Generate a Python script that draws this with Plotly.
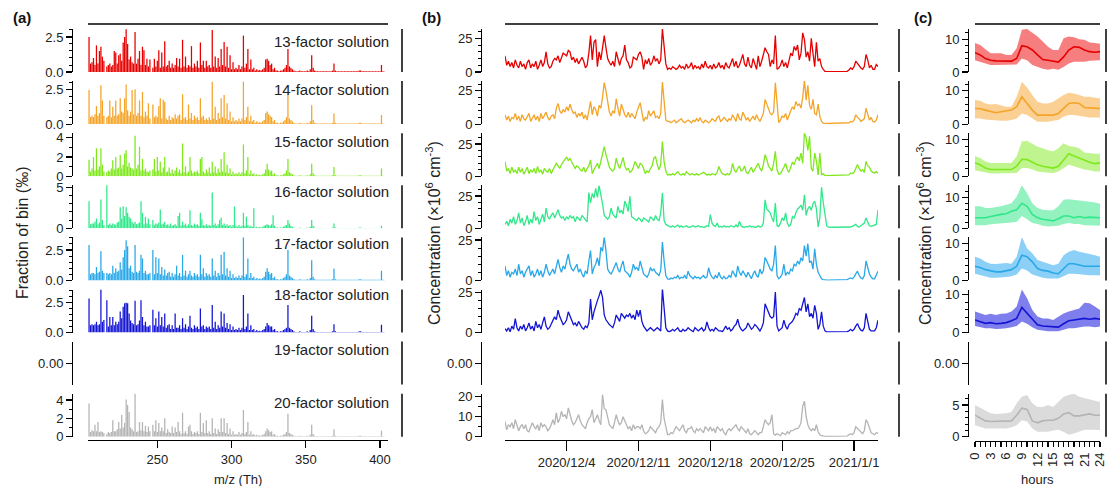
import plotly.graph_objects as go
import pandas as pd

W, H = 1107, 486
FONT = "Arial, 'Liberation Sans', sans-serif"

# ---------------- data ----------------
factor_names = ["13-factor solution", "14-factor solution", "15-factor solution",
                "16-factor solution", "17-factor solution", "18-factor solution",
                "19-factor solution", "20-factor solution"]
factor_colors = ["#e60000", "#f4a428", "#7ee81c", "#30e88a", "#28a8e8", "#1414d4", "#000000", "#b4b4b4"]
band_colors = ["rgba(240,20,20,0.55)", "rgba(246,170,60,0.55)", "rgba(140,235,50,0.55)",
               "rgba(60,232,140,0.55)", "rgba(45,170,240,0.55)", "rgba(40,40,225,0.6)",
               "rgba(0,0,0,0)", "rgba(190,190,190,0.55)"]

# factor mass spectra, fraction of bin (per mil), unit m/z 204..403
mz = list(range(204, 404))

spec_13 = [
    2.5, 0.6, 0.7, 1.0, 0.5, 1.9, 0.6, 1.5, 1.8, 1.1,
    0.8, 0.0, 0.4, 0.5, 0.6, 0.4, 0.5, 1.5, 1.4, 0.6,
    1.2, 1.3, 0.8, 2.1, 2.5, 3.05, 2.0, 0.9, 1.1, 0.7,
    0.6, 2.85, 0.6, 0.95, 1.5, 0.5, 1.8, 1.55, 0.5, 0.95,
    0.4, 0.9, 0.0, 0.3, 0.95, 0.4, 0.8, 1.55, 0.3, 1.4,
    0.4, 2.2, 0.4, 0.5, 0.8, 0.3, 0.6, 0.3, 0.5, 1.0,
    0.4, 0.95, 0.3, 2.3, 0.4, 1.1, 0.3, 0.5, 0.4, 1.85,
    0.3, 0.6, 0.4, 0.8, 0.3, 2.1, 0.5, 0.8, 0.3, 0.8,
    0.4, 0.5, 0.3, 3.0, 0.4, 1.1, 0.3, 1.0, 0.4, 1.65,
    0.5, 2.15, 0.4, 1.8, 0.3, 1.2, 0.2, 0.7, 0.2, 0.3,
    0.2, 0.5, 0.2, 0.4, 2.6, 0.3, 0.6, 1.65, 0.2, 0.9,
    0.2, 0.3, 0.1, 0.2, 0.1, 0.15, 0.1, 0.2, 0.3, 0.9,
    0.95, 0.8, 0.5, 0.6, 0.2, 0.3, 0.1, 0.1, 0.05, 0.1,
    0.1, 0.2, 0.3, 0.5, 1.65, 0.4, 0.3, 0.2, 0.1, 0.05,
    0.05, 0.05, 0.1, 0.05, 0.05, 0.05, 0.05, 0.1, 0.05, 0.2,
    1.2, 0.3, 0.1, 0.05, 0.05, 0.05, 0.05, 0.05, 0.05, 0.05,
    0.05, 0.05, 0.05, 0.05, 0.1, 0.6, 0.1, 0.05, 0.05, 0.05,
    0.05, 0.05, 0.05, 0.05, 0.05, 0.05, 0.05, 0.05, 0.05, 0.05,
    0.05, 0.05, 0.1, 0.1, 0.05, 0.05, 0.05, 0.05, 0.05, 0.05,
    0.05, 0.05, 0.05, 0.05, 0.05, 0.05, 0.05, 0.5, 0.05, 0.02,
]
spec_14 = [
    2.45, 0.5, 0.6, 0.5, 0.7, 1.3, 0.6, 0.8, 2.8, 1.7,
    0.6, 0.0, 0.5, 0.6, 1.7, 0.5, 1.25, 0.6, 1.7, 0.6,
    0.7, 1.85, 0.9, 0.8, 1.85, 2.85, 1.0, 0.6, 0.9, 2.45,
    0.7, 2.5, 0.6, 0.8, 1.7, 0.6, 2.3, 0.5, 0.9, 0.6,
    1.5, 0.4, 0.0, 1.4, 0.5, 0.6, 0.5, 1.3, 1.85, 0.4,
    1.75, 1.6, 0.4, 0.3, 0.6, 0.3, 0.5, 0.4, 0.7, 0.4,
    0.6, 0.7, 0.3, 2.15, 0.4, 0.5, 0.3, 1.4, 0.4, 0.8,
    0.3, 0.6, 0.4, 0.5, 0.3, 1.85, 0.5, 0.6, 0.3, 0.4,
    0.3, 0.5, 0.3, 3.05, 0.4, 1.25, 0.3, 0.8, 0.4, 1.85,
    0.5, 2.1, 0.4, 1.5, 0.3, 0.9, 0.2, 0.5, 0.2, 0.3,
    0.2, 0.4, 0.2, 0.4, 3.05, 0.3, 0.5, 1.25, 0.2, 0.6,
    0.2, 0.3, 0.1, 0.2, 0.1, 0.15, 0.1, 0.2, 0.3, 0.8,
    0.9, 0.7, 0.6, 0.5, 0.2, 0.3, 0.1, 0.1, 0.05, 0.1,
    0.1, 0.2, 0.3, 0.5, 2.2, 0.4, 0.3, 0.2, 0.1, 0.05,
    0.05, 0.05, 0.1, 0.05, 0.05, 0.05, 0.05, 0.1, 0.05, 0.2,
    1.35, 0.3, 0.1, 0.05, 0.05, 0.05, 0.05, 0.05, 0.05, 0.05,
    0.05, 0.05, 0.05, 0.05, 0.1, 0.77, 0.1, 0.05, 0.05, 0.05,
    0.05, 0.05, 0.05, 0.05, 0.05, 0.05, 0.05, 0.05, 0.05, 0.05,
    0.05, 0.05, 0.1, 0.1, 0.05, 0.05, 0.05, 0.05, 0.05, 0.05,
    0.05, 0.05, 0.05, 0.05, 0.05, 0.05, 0.05, 0.65, 0.05, 0.02,
]
spec_15 = [
    1.7, 0.5, 0.8, 2.0, 0.6, 2.9, 0.7, 1.0, 2.9, 1.2,
    0.5, 0.0, 0.4, 0.6, 0.5, 0.8, 1.65, 0.7, 2.0, 0.8,
    0.9, 2.2, 0.8, 1.2, 2.35, 2.7, 1.0, 1.4, 0.9, 0.8,
    0.7, 4.2, 0.8, 1.2, 3.05, 0.6, 1.8, 0.6, 0.8, 0.5,
    0.4, 0.6, 0.0, 0.7, 1.8, 0.5, 2.0, 0.6, 1.5, 0.4,
    0.9, 2.0, 0.4, 0.5, 0.9, 0.3, 0.7, 0.3, 0.6, 0.9,
    0.4, 0.7, 0.3, 3.4, 0.4, 1.0, 0.3, 0.5, 2.0, 0.6,
    0.3, 0.5, 0.4, 0.6, 0.3, 1.8, 2.0, 0.5, 0.3, 0.7,
    0.4, 0.9, 0.3, 1.5, 0.4, 1.0, 0.3, 0.8, 0.4, 1.8,
    0.5, 2.5, 0.4, 1.2, 0.3, 0.8, 0.2, 0.5, 0.2, 0.3,
    0.2, 0.4, 0.2, 0.4, 3.3, 0.3, 0.6, 2.0, 0.2, 0.6,
    0.2, 0.3, 0.1, 0.2, 0.1, 0.15, 0.1, 0.2, 0.3, 0.7,
    1.3, 0.7, 0.5, 0.6, 0.2, 0.3, 0.1, 0.1, 0.05, 0.1,
    0.1, 0.2, 0.3, 0.6, 1.8, 0.4, 0.3, 0.2, 0.1, 0.05,
    0.05, 0.05, 0.1, 0.05, 0.05, 0.05, 0.05, 0.1, 0.05, 0.2,
    1.3, 0.3, 0.1, 0.05, 0.05, 0.05, 0.05, 0.05, 0.05, 0.05,
    0.05, 0.05, 0.05, 0.05, 0.1, 0.95, 0.1, 0.05, 0.05, 0.05,
    0.05, 0.05, 0.05, 0.05, 0.05, 0.05, 0.05, 0.05, 0.05, 0.05,
    0.05, 0.05, 0.1, 0.1, 0.05, 0.05, 0.05, 0.05, 0.05, 0.05,
    0.05, 0.05, 0.05, 0.05, 0.05, 0.05, 0.05, 0.8, 0.05, 0.02,
]
spec_16 = [
    3.3, 0.5, 0.6, 0.6, 0.8, 1.2, 0.5, 0.7, 3.5, 1.0,
    0.4, 0.0, 5.3, 0.4, 0.6, 0.4, 0.6, 0.5, 0.4, 0.7,
    0.8, 2.55, 1.2, 2.7, 1.5, 2.55, 1.9, 1.4, 1.2, 0.8,
    0.6, 0.8, 0.5, 0.6, 0.7, 3.3, 1.9, 0.5, 1.4, 0.6,
    1.2, 0.5, 0.0, 1.0, 0.4, 0.6, 0.5, 0.7, 2.3, 0.5,
    0.6, 0.8, 0.4, 0.5, 0.3, 0.6, 0.3, 0.4, 0.5, 0.3,
    1.5, 1.9, 0.3, 0.8, 0.4, 0.6, 0.3, 0.5, 2.2, 0.4,
    0.3, 0.6, 0.4, 0.5, 0.3, 1.9, 1.1, 0.4, 0.3, 0.5,
    0.3, 0.4, 0.3, 4.35, 0.4, 0.6, 0.3, 0.5, 1.0, 1.3,
    0.4, 0.6, 0.3, 0.5, 0.3, 0.4, 0.2, 0.4, 2.65, 0.3,
    0.2, 0.4, 0.2, 0.3, 1.9, 0.3, 1.4, 0.4, 0.2, 0.3,
    0.2, 2.45, 0.1, 0.2, 0.1, 0.15, 0.1, 0.2, 0.3, 0.4,
    0.5, 0.4, 0.3, 0.5, 1.6, 0.3, 0.1, 0.1, 0.05, 0.1,
    0.1, 0.2, 0.3, 0.4, 1.0, 0.6, 0.3, 0.2, 0.1, 0.05,
    0.05, 0.05, 0.1, 0.05, 0.05, 0.05, 0.05, 0.1, 0.05, 0.2,
    1.0, 0.3, 0.1, 0.05, 0.05, 0.05, 0.05, 0.05, 0.05, 0.05,
    0.05, 0.05, 0.05, 0.05, 0.1, 0.6, 0.1, 0.05, 0.05, 0.05,
    0.05, 0.05, 0.05, 0.05, 0.05, 0.05, 0.05, 0.05, 0.05, 0.05,
    0.05, 0.05, 0.1, 0.1, 0.05, 0.05, 0.05, 0.05, 0.05, 0.05,
    0.05, 0.05, 0.05, 0.05, 0.05, 0.05, 0.05, 0.3, 0.05, 0.02,
]
spec_17 = [
    2.9, 0.5, 0.6, 0.6, 0.5, 1.1, 0.6, 0.7, 2.4, 0.8,
    0.6, 0.0, 0.6, 0.5, 0.6, 0.5, 1.2, 0.6, 1.0, 0.7,
    0.8, 1.5, 0.9, 1.9, 2.5, 3.3, 2.8, 1.0, 1.2, 0.7,
    0.6, 2.9, 0.7, 0.6, 0.8, 2.1, 1.8, 0.6, 0.8, 0.5,
    0.5, 0.6, 0.0, 2.5, 0.5, 1.9, 0.6, 1.8, 0.5, 1.1,
    0.4, 0.9, 0.4, 0.6, 0.7, 0.3, 0.6, 0.3, 0.5, 1.2,
    0.4, 0.6, 0.3, 2.1, 0.4, 0.8, 0.3, 0.5, 0.8, 0.4,
    0.3, 0.6, 0.4, 0.5, 0.3, 2.1, 0.5, 1.0, 0.3, 0.6,
    0.4, 0.5, 0.3, 1.8, 0.4, 0.8, 0.3, 0.6, 0.4, 2.1,
    0.5, 2.35, 0.4, 1.0, 0.3, 0.8, 0.2, 0.5, 0.2, 0.3,
    0.2, 0.4, 0.2, 0.4, 3.6, 0.3, 0.5, 1.8, 0.2, 0.6,
    0.2, 0.3, 0.1, 0.2, 0.1, 0.15, 0.1, 0.2, 0.3, 0.7,
    1.0, 0.7, 0.5, 0.6, 0.2, 0.3, 0.1, 0.1, 0.05, 0.1,
    0.1, 0.2, 0.3, 0.5, 2.5, 0.4, 0.3, 0.2, 0.1, 0.05,
    0.05, 0.05, 0.1, 0.05, 0.05, 0.05, 0.05, 0.1, 0.05, 0.2,
    1.65, 0.3, 0.1, 0.05, 0.05, 0.05, 0.05, 0.05, 0.05, 0.05,
    0.05, 0.05, 0.05, 0.05, 0.1, 0.95, 0.1, 0.05, 0.05, 0.05,
    0.05, 0.05, 0.05, 0.05, 0.05, 0.05, 0.05, 0.05, 0.05, 0.05,
    0.05, 0.05, 0.1, 0.1, 0.05, 0.05, 0.05, 0.05, 0.05, 0.05,
    0.05, 0.05, 0.05, 0.05, 0.05, 0.05, 0.05, 0.8, 0.05, 0.02,
]
spec_18 = [
    2.85, 0.6, 0.7, 0.6, 0.7, 0.9, 0.6, 0.7, 3.6, 0.9,
    1.05, 0.0, 2.7, 0.5, 1.3, 0.6, 1.3, 0.6, 0.9, 0.7,
    0.9, 1.75, 1.2, 2.15, 2.45, 2.5, 2.45, 1.6, 1.0, 0.8,
    0.7, 2.65, 0.6, 0.7, 1.0, 2.7, 1.3, 0.6, 0.9, 0.5,
    0.5, 0.6, 0.0, 1.9, 0.6, 1.2, 0.5, 1.75, 0.6, 1.3,
    0.5, 1.6, 0.4, 0.6, 0.7, 0.3, 0.6, 0.3, 1.6, 0.4,
    0.4, 0.6, 0.3, 1.2, 0.4, 0.7, 0.3, 0.5, 1.4, 0.4,
    0.3, 0.6, 0.4, 0.5, 0.3, 2.0, 0.5, 0.6, 0.3, 0.5,
    0.4, 0.5, 0.3, 2.3, 0.4, 0.9, 0.3, 0.6, 0.4, 1.75,
    0.5, 1.6, 0.4, 0.8, 0.3, 0.7, 0.2, 0.5, 0.2, 0.3,
    0.2, 0.4, 0.2, 0.4, 3.15, 0.3, 0.5, 1.6, 0.2, 0.6,
    0.2, 0.3, 0.1, 0.2, 0.1, 0.15, 0.1, 0.2, 0.3, 0.5,
    0.8, 0.6, 0.5, 0.5, 0.2, 0.3, 0.1, 0.1, 0.05, 0.1,
    0.1, 0.2, 0.3, 0.4, 2.3, 0.4, 0.3, 0.2, 0.1, 0.05,
    0.05, 0.05, 0.1, 0.05, 0.05, 0.05, 0.05, 0.1, 0.05, 0.2,
    1.4, 0.3, 0.1, 0.05, 0.05, 0.05, 0.05, 0.05, 0.05, 0.05,
    0.05, 0.05, 0.05, 0.05, 0.1, 0.7, 0.1, 0.05, 0.05, 0.05,
    0.05, 0.05, 0.05, 0.05, 0.05, 0.05, 0.05, 0.05, 0.05, 0.05,
    0.05, 0.05, 0.1, 0.1, 0.05, 0.05, 0.05, 0.05, 0.05, 0.05,
    0.05, 0.05, 0.05, 0.05, 0.05, 0.05, 0.05, 0.65, 0.05, 0.02,
]
spec_19 = []
spec_20 = [
    3.6, 0.5, 0.7, 0.6, 1.3, 0.6, 1.6, 0.5, 0.6, 0.5,
    0.4, 0.0, 0.3, 0.5, 0.4, 0.5, 1.8, 0.6, 0.6, 0.8,
    1.6, 0.9, 2.35, 1.0, 1.5, 4.05, 3.45, 2.7, 1.0, 0.8,
    0.6, 4.7, 0.5, 0.6, 1.6, 0.7, 1.6, 0.6, 1.2, 0.5,
    1.1, 0.6, 0.0, 1.3, 0.6, 1.8, 0.5, 1.5, 0.6, 1.0,
    0.6, 2.0, 0.4, 0.8, 0.5, 0.4, 1.1, 0.4, 1.0, 0.5,
    1.6, 0.6, 0.3, 2.6, 0.4, 0.6, 0.3, 1.1, 1.3, 0.6,
    0.3, 0.5, 0.4, 0.6, 0.3, 2.6, 0.5, 1.5, 0.4, 1.8,
    0.4, 0.6, 0.3, 2.0, 0.4, 0.9, 0.3, 0.8, 0.5, 2.0,
    0.5, 2.0, 0.4, 1.5, 0.3, 0.9, 0.2, 0.6, 0.2, 0.3,
    0.2, 0.5, 0.2, 0.4, 2.9, 0.3, 0.5, 1.6, 0.2, 0.6,
    0.2, 0.3, 0.1, 0.2, 0.1, 0.15, 0.1, 0.2, 0.3, 0.6,
    0.9, 0.7, 0.5, 0.6, 0.2, 0.3, 0.1, 0.1, 0.05, 0.1,
    0.1, 0.2, 0.3, 0.5, 2.5, 0.4, 0.3, 0.2, 0.1, 0.05,
    0.05, 0.05, 0.1, 0.05, 0.05, 0.05, 0.05, 0.1, 0.05, 0.2,
    1.3, 0.3, 0.1, 0.05, 0.05, 0.05, 0.05, 0.05, 0.05, 0.05,
    0.05, 0.05, 0.05, 0.05, 0.1, 0.8, 0.1, 0.05, 0.05, 0.05,
    0.05, 0.05, 0.05, 0.05, 0.05, 0.05, 0.05, 0.05, 0.05, 0.05,
    0.05, 0.05, 0.1, 0.1, 0.05, 0.05, 0.05, 0.05, 0.05, 0.05,
    0.05, 0.05, 0.05, 0.05, 0.05, 0.05, 0.05, 0.65, 0.05, 0.02,
]

# factor time series, 10^6 cm^-3, 4-hourly from 2020-11-28 00:00
ts_start = "2020-11-28 00:00"
ts_13 = [
    12, 5, 8, 4, 7, 3,   9, 5, 3, 8, 4, 6,   2, 7, 9, 3, 6, 4,   8, 2, 5, 9, 4, 7,
    15, 6, 3, 4, 8, 10,   9, 12, 7, 11, 14, 13,   12, 16, 15, 9, 11, 7,   10, 6, 9, 11, 8, 3,
    5, 14, 27, 9, 22, 24,   4, 15, 9, 19, 27, 18,   10, 7, 5, 8, 4, 15,   9, 5, 10, 12, 20, 9,
    7, 3, 4, 11, 10, 9,   13, 15, 11, 2, 9, 6,   10, 5, 7, 12, 8, 10,   6, 9, 32, 18, 6, 2,
    3, 2, 4, 3, 2, 3,   5, 3, 4, 2, 6, 3,   4, 7, 2, 5, 3, 4,   2, 6, 3, 8, 4, 3,
    5, 2, 6, 3, 4, 7,   3, 5, 2, 7, 4, 3,   6, 10, 4, 8, 3, 5,   9, 13, 6, 4, 11, 5,
    3, 10, 6, 2, 12, 4,   8, 14, 18, 15, 13, 4,   9, 6, 27, 2, 3, 5,   9, 4, 7, 3, 10, 14,
    12, 19, 16, 20, 9, 14,   29, 24, 11, 15, 8, 25,   14, 4, 22, 8, 10, 4,   2, 0.5, 0.3, 0.3, 0.3, 0.3,
    0.3, 0.3, 0.3, 0.3, 0.3, 0.3,   0.3, 0.3, 0.5, 1.5, 3, 2,   4, 8, 6, 5, 3, 2,   4, 13, 9, 3, 5, 2,
    2, 5.5, 4,
]
ts_14 = [
    7, 3, 6, 2, 5, 4,   8, 3, 6, 2, 7, 4,   3, 6, 8, 2, 5, 7,   3, 6, 2, 8, 4, 6,
    9, 5, 3, 6, 7, 4,   12, 15.5, 10, 8, 11, 9,   13, 10, 15, 11, 8, 9,   5, 8, 6, 9, 4, 7,
    3, 10, 17, 7, 13, 11,   6, 14, 12, 20, 31, 25,   18, 9, 6, 10, 8, 19,   12, 6, 15, 10, 7, 5,
    9, 5, 8, 6, 4, 9,   12, 16, 9, 2, 5, 4,   10, 6, 8, 10, 5, 6,   4, 8, 31.5, 14, 3, 2,
    2, 1, 2, 3, 1, 2,   3, 4, 2, 1, 2, 3,   2, 1, 3, 2, 4, 2,   5, 2, 1, 3, 2, 1,
    2, 4, 3, 2, 5, 6,   2, 3, 5, 3, 2, 4,   3, 7, 5, 2, 8, 4,   3, 9, 6, 3, 5, 2,
    4, 6, 3, 7, 4, 2,   5, 8, 18.5, 15, 11, 8,   7, 9, 31, 12, 1, 3,   6, 5, 8, 3, 7, 10,
    13, 11, 17, 14, 15, 12,   20, 33, 18, 29, 14, 11,   18.5, 8, 7, 15, 6, 2,   0.8, 0.5, 0.5, 0.5, 0.5, 0.5,
    0.5, 0.5, 0.5, 0.5, 0.5, 0.5,   0.5, 0.5, 0.6, 1, 2, 1.5,   3, 7, 5, 4, 2, 3,   4, 12, 8, 3, 5, 2,
    1.5, 3, 7,
]
ts_15 = [
    11.5, 4, 6, 2, 7, 3,   5, 2, 7, 3, 6, 1.5,   4, 7, 2, 5, 3, 6,   2, 7.5, 3, 5, 1.5, 6,
    4, 3, 6, 2, 5, 7,   10, 8, 6, 9, 11, 13,   15, 12, 14, 11, 9, 6,   8, 7, 5, 4, 7, 3,
    6, 8, 12.7, 2, 5, 8,   10, 6, 12, 16, 23, 17,   12, 7, 5, 4, 6, 14,   9, 6, 10, 14.6, 8, 5,
    6, 3, 4, 7, 11.5, 8,   6, 10, 9, 6, 2, 4,   3, 6, 8, 14, 15, 9,   5, 9, 27, 11, 4, 1,
    1.5, 1, 2, 1, 2, 3.5,   1.5, 1, 2, 1, 3.5, 2,   1, 2, 1.5, 1, 2, 1,   1.5, 2, 3, 2, 1, 1.5,
    1, 2, 1.5, 1, 3, 7.5,   4, 2, 1.5, 1, 2, 1,   3, 10, 5, 3, 6, 8,   4, 5, 8, 3, 2, 4,
    7, 3, 5, 7.5, 10, 6,   4, 9, 16.7, 13, 8, 6,   4, 10, 19.3, 5, 1.5, 2,   4, 7, 10, 5, 3, 8,
    11, 9, 13, 15, 12, 18,   10, 33.6, 29.7, 20, 31, 6,   4, 18, 12, 1, 18, 1,   2, 0.5, 0.5, 0.5, 0.5, 0.5,
    0.5, 0.5, 0.5, 0.5, 0.5, 0.5,   0.5, 0.5, 0.6, 1, 2.5, 2,   3, 6, 9, 6, 4, 5,   3, 11.5, 8, 7, 4, 3,
    2.5, 3.5, 2.3,
]
ts_16 = [
    3, 5.4, 2, 7, 4, 9,   3, 6, 12, 4, 8, 2,   5, 10, 3, 7, 4, 13,   6, 9, 3, 8, 11, 5,
    15.7, 9, 7, 10, 12, 8,   11, 14.4, 10, 8, 9, 6,   9, 7, 10, 8, 9, 5,   9, 7, 6, 10, 8, 6,
    5, 27.6, 19.6, 27, 23.5, 31,   24, 33, 27, 19, 10, 8,   7, 9, 15.7, 11, 9, 8,   17, 12, 14, 11, 21, 18,
    13, 24.7, 9, 8, 7, 6,   8, 7, 5, 8, 7, 6,   5, 9, 7, 6, 10, 7,   6, 12, 27.3, 6, 3, 2,
    1.5, 1, 2, 0.8, 1.5, 2.5,   1, 2, 0.8, 1.5, 2, 1,   0.8, 1.5, 2, 1, 1.5, 2,   1, 1.5, 0.8, 1, 2, 1.5,
    10.6, 4, 2, 1.5, 4, 1,   1.5, 0.8, 2, 1, 1.5, 1,   2, 1.5, 1, 2.5, 1, 5.4,   2, 1, 0.8, 1.5, 1, 2,
    1, 1.5, 0.8, 1, 2, 1,   1.5, 4, 22, 15, 13, 12,   8, 5, 19.6, 2, 1.5, 4,   8, 6, 12, 4, 1.5, 3,
    9, 8, 12, 15, 16, 18,   14, 26, 10, 15, 17, 14,   19, 21, 15, 1, 8, 31.7,   20, 9, 2, 1, 0.8, 0.8,
    0.8, 0.8, 0.8, 0.8, 0.8, 0.8,   0.8, 0.8, 0.8, 0.8, 1, 1.5,   2, 3, 1.5, 1, 2, 3,   4, 8, 5, 2, 1.5, 2,
    2, 3, 14.4,
]
ts_17 = [
    8.9, 3, 6, 2, 5, 4,   7, 3, 10, 4, 6, 2,   5, 7, 9, 3, 6, 2,   4, 7, 3, 6, 2, 5,
    10, 6, 3, 5, 7, 4,   9, 13, 8, 5, 9, 7,   12, 16.3, 10, 7, 6, 8,   10, 5, 7, 4, 2, 6,
    4, 12, 18.4, 4, 8, 10,   14, 9, 20.5, 18, 27, 18.4,   7, 5, 4, 6, 8, 11,   7, 5, 9, 12, 6, 5,
    4, 2, 5, 10, 7, 8,   6, 12, 8, 4, 3, 2,   4, 8, 6, 7, 5, 4,   3, 6, 23.7, 12, 3, 1,
    0.5, 1.5, 1, 2, 1.5, 3,   1, 2, 1.5, 3, 1, 5.7,   3, 2, 1, 2.5, 1.5, 2,   1, 2, 3, 1.5, 2, 7.8,
    4, 2, 1, 3, 1.5, 5,   2, 1, 2.5, 1, 1.5, 3,   2, 6, 4, 2, 8.9, 5,   3, 6, 4, 2, 5, 3,
    1, 4, 6, 3, 2, 7,   4, 6, 14.2, 12, 9, 7,   6, 10, 21.6, 3, 1, 2,   4, 10, 3, 5, 4, 7,
    6, 10, 9, 12, 10, 14,   12, 21.6, 15, 22.7, 11, 12,   7, 19.5, 10, 5, 3, 1,   0.5, 0.2, 0.2, 0.2, 0.2, 0.2,
    0.2, 0.2, 0.2, 0.2, 0.2, 0.2,   0.2, 0.2, 0.5, 1, 1.5, 1,   2, 4, 5.7, 3, 1.5, 1,   3, 12, 7, 4, 2, 1,
    1, 3, 5.7,
]
ts_18 = [
    2.5, 1, 3, 0.5, 4, 2,   8.75, 3, 1, 4, 2, 5,   1, 3, 6, 2, 4, 1,   7, 3, 5, 2, 6, 9.8,
    4, 2, 3, 5, 7, 9.8,   8, 14, 10, 7, 5, 6,   8, 13, 10, 7, 5, 6,   4, 7, 5, 3, 2, 4,
    3, 6, 21, 8, 13, 17,   20, 23, 26.5, 22, 11, 8,   6, 5, 4, 3, 6, 11,   9, 7, 12, 10, 9, 11,
    10, 12, 9, 11, 8, 14,   10, 14, 7, 4, 2, 1,   2, 3, 2, 1, 2, 3,   2, 1, 27.5, 13, 3, 1,
    0.5, 1, 2, 1, 2, 3,   1, 0.5, 2, 1, 1.5, 3,   2, 1, 0.5, 3, 2, 1,   2, 3, 1, 2, 6.7, 3,
    1, 2, 1, 3, 2, 1,   1, 0.5, 2, 4, 2, 3,   1, 2, 4, 5, 8.3, 4,   2, 1, 2, 3, 6, 4,
    2, 3, 5, 4, 2, 1,   3, 6, 18, 15, 13, 10,   9, 10, 25.4, 4, 1, 2,   3, 7.7, 4, 2, 5, 6,
    7, 9, 12, 11, 15, 14,   18, 22, 13, 18, 10, 12,   9, 17, 12, 2, 5, 13,   4, 1, 0.4, 0.4, 0.4, 0.4,
    0.4, 0.4, 0.4, 0.4, 0.4, 0.4,   0.4, 0.4, 0.6, 1, 2, 1,   2, 4, 5.6, 3, 1.5, 1,   3, 12, 6, 2, 1, 1,
    1, 3, 7.7,
]
ts_19 = []
ts_20 = [
    7.6, 3.4, 6, 5, 7, 4,   8.5, 6, 3, 5, 6, 4,   6, 3, 2.5, 5, 7, 5,   4, 6, 3, 7, 5, 6,
    5, 3, 4, 6, 8.5, 6,   12, 7, 9, 12.7, 10, 11,   9, 14.4, 11, 8, 6, 7,   9, 11, 8, 6, 5, 4,
    7, 9, 10, 13.5, 7, 9,   11, 8, 6, 21, 14, 13.5,   9, 6, 5, 4, 7, 11,   8, 6, 7, 10, 8, 6,
    4, 5, 3, 6, 4, 5,   5, 4, 6, 3, 1.5, 2,   3, 5, 4, 3, 2, 4,   5, 7, 18.6, 9, 4, 1,
    1, 2, 1.5, 3, 5, 4,   3, 4.5, 6, 3, 2, 4,   4, 5, 3, 2, 4, 3,   4, 3, 2, 5, 4, 3,
    5, 3, 4, 2, 5, 4,   3, 4, 2, 1, 3, 4,   3, 4, 5, 6, 4, 3,   5, 4, 3, 2, 4, 1.5,
    1, 2, 3, 2, 1, 2,   2, 5, 8.5, 7, 6, 7,   11, 1.5, 0.8, 1.5, 1, 0.5,   2, 1.5, 1, 2.5, 1.5, 3,
    3, 3.5, 4, 4, 5, 7,   15.3, 17.8, 10, 6, 4, 3,   4, 3, 6, 2.5, 1, 0.5,   0.2, 0.1, 0.1, 0.1, 0.1, 0.1,
    0.1, 0.1, 0.1, 0.1, 0.1, 0.1,   0.1, 0.1, 0.3, 1, 1.5, 1,   2, 5, 4, 3, 2, 1.5,   3, 8.5, 7, 4, 2, 1.5,
    1, 2, 1.7,
]

# diurnal cycles (hour of day): median with 25th-75th percentile band
hours = list(range(25))
diel_13_mid = [5.9, 5.2, 4.1, 3.6, 3.4, 3.4, 3.3, 3.3, 4.1, 8.0, 7.7, 6.7, 5.2, 3.8, 3.6, 3.4, 3.0, 4.6, 6.7, 7.7, 7.5, 6.7, 6.2, 6.0, 6.2]
diel_13_hi = [8.8, 8.2, 6.9, 5.7, 5.7, 5.7, 5.2, 5.2, 7.2, 12.9, 13.1, 11.9, 10.8, 9.3, 7.7, 6.7, 6.7, 10.3, 10.8, 10.6, 10.0, 9.8, 9.0, 8.8, 8.6]
diel_13_lo = [3.6, 3.1, 2.6, 2.1, 2.1, 2.1, 2.1, 2.1, 2.3, 4.1, 3.6, 2.1, 1.5, 1.0, 0.7, 1.0, 0.7, 1.5, 2.6, 3.1, 3.1, 3.1, 3.4, 3.6, 3.6]
diel_14_mid = [4.7, 4.6, 4.2, 3.7, 3.4, 3.7, 4.0, 4.2, 5.2, 8.2, 6.2, 4.2, 2.7, 2.7, 2.7, 2.7, 3.2, 4.7, 6.2, 6.4, 6.2, 5.0, 5.0, 4.8, 4.7]
diel_14_hi = [7.2, 7.0, 6.2, 5.9, 6.0, 5.7, 5.2, 5.2, 8.2, 12.7, 11.0, 8.7, 6.7, 6.2, 6.2, 6.7, 7.7, 8.7, 9.4, 9.2, 8.7, 8.2, 8.2, 8.0, 7.7]
diel_14_lo = [1.7, 1.7, 1.4, 1.2, 1.0, 1.0, 1.0, 1.2, 1.7, 3.2, 2.7, 1.7, 0.7, 0.7, 0.7, 1.0, 1.2, 2.2, 2.7, 2.7, 2.4, 2.2, 2.0, 2.0, 2.0]
diel_15_mid = [3.6, 3.1, 2.2, 1.8, 1.8, 1.8, 1.8, 1.8, 2.7, 4.6, 4.5, 3.8, 3.1, 2.7, 2.5, 2.2, 2.7, 4.5, 6.1, 5.5, 4.9, 4.3, 3.8, 3.4, 3.6]
diel_15_hi = [5.4, 4.9, 4.0, 3.6, 3.6, 3.6, 3.6, 3.6, 5.4, 9.4, 9.6, 8.8, 8.0, 7.6, 7.0, 6.7, 7.6, 8.9, 8.2, 8.0, 7.6, 6.4, 6.2, 6.1, 6.1]
diel_15_lo = [1.6, 1.3, 0.9, 0.7, 0.7, 0.7, 0.7, 0.7, 0.9, 2.2, 2.2, 1.8, 1.3, 1.1, 1.1, 0.9, 1.3, 2.2, 3.1, 2.7, 2.2, 1.8, 1.6, 1.3, 1.3]
diel_16_mid = [3.4, 3.4, 3.4, 3.8, 4.2, 4.5, 4.7, 5.5, 6.0, 8.1, 7.1, 4.5, 3.4, 2.9, 2.7, 2.4, 3.1, 4.0, 4.0, 3.4, 3.8, 3.4, 3.6, 3.4, 3.4]
diel_16_hi = [7.1, 7.1, 6.6, 6.6, 6.9, 7.1, 7.6, 8.1, 10.2, 13.9, 11.3, 8.1, 6.6, 6.0, 5.8, 5.8, 7.1, 9.2, 9.4, 9.2, 9.2, 9.0, 8.6, 8.3, 7.9]
diel_16_lo = [1.0, 1.0, 1.0, 1.3, 1.4, 1.5, 1.7, 1.9, 2.1, 4.0, 2.9, 1.7, 1.4, 0.8, 0.6, 0.6, 0.8, 1.4, 1.7, 1.4, 1.4, 1.0, 1.0, 0.8, 0.8]
diel_17_mid = [3.8, 3.5, 2.9, 2.5, 2.3, 2.3, 2.7, 2.9, 3.8, 6.8, 6.4, 5.0, 3.2, 2.7, 2.5, 2.0, 1.8, 3.2, 4.5, 4.5, 4.1, 3.8, 3.8, 3.8, 3.8]
diel_17_hi = [6.4, 5.9, 5.0, 4.5, 4.4, 4.5, 4.7, 4.5, 6.4, 11.7, 8.6, 7.3, 5.5, 5.0, 4.5, 4.1, 4.5, 6.8, 7.7, 8.2, 7.7, 7.3, 7.1, 6.8, 6.4]
diel_17_lo = [1.8, 1.4, 0.9, 0.7, 0.7, 0.7, 0.9, 1.1, 1.6, 3.2, 2.7, 1.6, 1.1, 0.7, 0.5, 0.5, 0.5, 1.1, 1.8, 1.8, 1.6, 1.4, 1.4, 1.4, 1.4]
diel_18_mid = [3.3, 2.9, 2.4, 2.6, 2.3, 2.4, 2.6, 3.1, 3.7, 6.6, 5.0, 3.3, 2.0, 1.7, 1.6, 1.6, 1.4, 2.3, 3.1, 3.3, 3.5, 3.7, 3.5, 3.7, 3.5]
diel_18_hi = [5.5, 5.0, 4.6, 4.9, 4.6, 4.9, 5.0, 5.5, 6.8, 11.3, 9.0, 5.9, 4.2, 3.7, 3.7, 3.3, 4.2, 5.0, 5.5, 5.9, 6.3, 7.8, 7.7, 6.8, 5.9]
diel_18_lo = [1.7, 1.4, 1.1, 1.1, 0.9, 1.0, 1.1, 1.4, 1.7, 2.9, 2.3, 1.4, 0.7, 0.5, 0.3, 0.3, 0.3, 0.7, 1.1, 1.1, 1.4, 1.6, 1.6, 1.4, 1.6]
diel_19_mid, diel_19_hi, diel_19_lo = [], [], []
diel_20_mid = [3.4, 2.9, 2.5, 2.4, 2.4, 2.4, 2.4, 2.5, 3.4, 4.5, 4.3, 2.5, 2.2, 2.5, 2.6, 2.6, 2.9, 3.6, 3.8, 3.3, 3.3, 3.4, 3.6, 3.4, 3.4]
diel_20_hi = [5.0, 4.6, 4.1, 3.7, 3.6, 3.6, 3.7, 3.9, 5.3, 6.3, 6.6, 5.3, 4.7, 4.7, 5.0, 4.7, 5.5, 6.3, 6.6, 6.8, 6.3, 6.1, 5.9, 5.7, 5.5]
diel_20_lo = [1.8, 1.6, 1.3, 1.3, 1.3, 1.3, 1.3, 1.5, 1.8, 2.6, 2.4, 1.3, 0.8, 0.8, 0.8, 1.0, 1.1, 0.8, 0.3, 0.5, 0.8, 1.1, 1.1, 1.1, 1.05]

spectra = [spec_13, spec_14, spec_15, spec_16, spec_17, spec_18, spec_19, spec_20]
series = [ts_13, ts_14, ts_15, ts_16, ts_17, ts_18, ts_19, ts_20]
diel = [(diel_13_lo, diel_13_mid, diel_13_hi), (diel_14_lo, diel_14_mid, diel_14_hi),
        (diel_15_lo, diel_15_mid, diel_15_hi), (diel_16_lo, diel_16_mid, diel_16_hi),
        (diel_17_lo, diel_17_mid, diel_17_hi), (diel_18_lo, diel_18_mid, diel_18_hi),
        (diel_19_lo, diel_19_mid, diel_19_hi), (diel_20_lo, diel_20_mid, diel_20_hi)]

date_ticks = ["2020-12-04", "2020-12-11", "2020-12-18", "2020-12-25", "2021-01-01"]
date_labels = ["2020/12/4", "2020/12/11", "2020/12/18", "2020/12/25", "2021/1/1"]
mz_ticks = [250, 300, 350, 400]
hour_ticks = list(range(0, 25, 3))

for s in spectra:
    assert len(s) in (0, len(mz))

# ---------------- layout helpers (pixel geometry) ----------------
def fx(p):
    return p / W

def fy(p):
    return 1 - p / H

ROW_TOP, ROW_H, ROW_STEP = 29.0, 43.0, 52.1
panels = [
    dict(axis_x=72, left=88, right=388, rline=402),
    dict(axis_x=481, left=505, right=878, rline=899),
    dict(axis_x=968, left=975, right=1100, rline=1106),
]
# y axis (top of range, major step, minor step, label format) per panel and row
yspec = [
    [(3.07, 2.5, 0.5, ".1f"), (3.09, 2.5, 0.5, ".1f"), (4.47, 2, 1, "d"), (5.24, 5, 1, "d"),
     (3.53, 2.5, 0.5, ".1f"), (3.6, 2.5, 0.5, ".1f"), None, (4.68, 2, 1, "d")],
    [(31.9, 25, 5, "d"), (32.2, 25, 5, "d"), (33.4, 25, 5, "d"), (33.3, 25, 5, "d"),
     (26.6, 25, 5, "d"), (27.0, 25, 5, "d"), None, (21.5, 10, 5, "d")],
    [(13.1, 10, 2, "d"), (12.9, 10, 2, "d"), (11.65, 10, 2, "d"), (13.9, 10, 2, "d"),
     (11.6, 10, 2, "d"), (11.3, 10, 2, "d"), None, (6.8, 5, 1, "d")],
]

def yname(p, r):
    k = p * 8 + r + 1
    return "y" if k == 1 else f"y{k}"

def ykey(p, r):
    k = p * 8 + r + 1
    return "yaxis" if k == 1 else f"yaxis{k}"

tickfont = dict(family=FONT, size=13, color="#222")

fig = go.Figure()
layout = dict(
    template="none",
    width=W, height=H, margin=dict(l=0, r=0, t=0, b=0, pad=0),
    paper_bgcolor="white", plot_bgcolor="white",
    showlegend=False, barmode="overlay", hovermode=False,
    font=dict(family=FONT, size=13, color="#222"),
)

for p, pan in enumerate(panels):
    for r in range(8):
        top = ROW_TOP + r * ROW_STEP
        bot = top + ROW_H
        ax = dict(domain=[fy(bot), fy(top)], anchor="free", position=fx(pan["axis_x"]),
                  automargin=False, showline=True, linecolor="black", linewidth=1.4,
                  ticks="outside", ticklen=6, tickwidth=1.2, tickcolor="black",
                  showgrid=False, zeroline=False, tickfont=tickfont, fixedrange=True)
        spec = yspec[p][r]
        if spec is None:
            ax.update(range=[-1, 1], tickvals=[0], ticktext=["0.00"])
        else:
            ytop, major, minor, fmt = spec
            ax.update(range=[0, ytop], tick0=0, dtick=major, tickformat=fmt,
                      minor=dict(tick0=0, dtick=minor, ticks="outside", ticklen=3.5,
                                 tickwidth=1, tickcolor="black", showgrid=False))
        layout[ykey(p, r)] = ax

xcommon = dict(anchor="free", automargin=False, showline=True, linecolor="black", linewidth=1.4,
               ticks="outside", tickwidth=1.2, tickcolor="black", showgrid=False,
               zeroline=False, tickfont=tickfont, fixedrange=True)
t_first = pd.Timestamp(ts_start)
t_last = t_first + pd.Timedelta(hours=4 * (max(len(s) for s in series) - 1))
layout["xaxis"] = dict(xcommon, domain=[fx(88), fx(388)], position=fy(440),
                       range=[203.3, 405.4], tickvals=mz_ticks, ticklen=7)
layout["xaxis2"] = dict(xcommon, domain=[fx(505), fx(878)], position=fy(440), type="date",
                        range=[t_first, t_last], tickvals=date_ticks, ticktext=date_labels, ticklen=10)
layout["xaxis3"] = dict(xcommon, domain=[fx(975), fx(1100.1)], position=fy(441),
                        range=[0, 24.01], tickvals=hour_ticks, ticktext=[str(h) for h in hour_ticks],
                        ticklen=5, tickangle=-90, ticklabeloverflow="allow",
                        minor=dict(tick0=0, dtick=1, ticks="outside", ticklen=5, tickwidth=1.2,
                                   tickcolor="black", showgrid=False))

# ---------------- traces ----------------
for r in range(8):
    col = factor_colors[r]
    # (a) mass spectra
    if spectra[r]:
        fig.add_trace(go.Bar(x=mz, y=spectra[r], xaxis="x", yaxis=yname(0, r), width=0.85,
                             marker=dict(color=col, line=dict(width=0))))
    else:
        fig.add_trace(go.Scatter(x=[], y=[], xaxis="x", yaxis=yname(0, r)))
    # (b) time series
    if series[r]:
        t = pd.date_range(ts_start, periods=len(series[r]), freq="4h")
        fig.add_trace(go.Scatter(x=t, y=series[r], mode="lines", xaxis="x2", yaxis=yname(1, r),
                                 line=dict(color=col, width=1.3)))
    else:
        fig.add_trace(go.Scatter(x=[], y=[], xaxis="x2", yaxis=yname(1, r)))
    # (c) diurnal cycle with band
    lo, mid, hi = diel[r]
    if mid:
        fig.add_trace(go.Scatter(x=hours, y=lo, mode="lines", line=dict(width=0, color=col),
                                 xaxis="x3", yaxis=yname(2, r)))
        fig.add_trace(go.Scatter(x=hours, y=hi, mode="lines", line=dict(width=0, color=col),
                                 fill="tonexty", fillcolor=band_colors[r],
                                 xaxis="x3", yaxis=yname(2, r)))
        fig.add_trace(go.Scatter(x=hours, y=mid, mode="lines", line=dict(color=col, width=1.6),
                                 xaxis="x3", yaxis=yname(2, r)))
    else:
        fig.add_trace(go.Scatter(x=[], y=[], xaxis="x3", yaxis=yname(2, r)))

# ---------------- frame lines ----------------
shapes = []
for pan in panels:
    shapes.append(dict(type="line", xref="paper", yref="paper",
                       x0=fx(pan["left"]), x1=fx(pan["right"]), y0=fy(24), y1=fy(24),
                       line=dict(color="black", width=1.5)))
    for r in range(8):
        top = ROW_TOP + r * ROW_STEP
        shapes.append(dict(type="line", xref="paper", yref="paper",
                           x0=fx(pan["rline"]), x1=fx(pan["rline"]),
                           y0=fy(top), y1=fy(top + ROW_H),
                           line=dict(color="black", width=1.5)))
layout["shapes"] = shapes

# ---------------- text ----------------
ann = []
label_y = [41.7, 89.7, 141.7, 191.7, 243.3, 294, 349, 402.7]
for r, name in enumerate(factor_names):
    ann.append(dict(x=fx(391), y=fy(label_y[r]), xref="paper", yref="paper", text=name,
                    showarrow=False, xanchor="right", yanchor="middle",
                    font=dict(family=FONT, size=15, color="#222")))
for txt, xp in [("(a)", 22), ("(b)", 431), ("(c)", 923)]:
    ann.append(dict(x=fx(xp), y=fy(18), xref="paper", yref="paper", text=f"<b>{txt}</b>",
                    showarrow=False, xanchor="center", yanchor="middle",
                    font=dict(family=FONT, size=15, color="#111")))
conc = "Concentration (×10<sup>6</sup> cm<sup>-3</sup>)"
for txt, xp in [("Fraction of bin (‰)", 22), (conc, 433), (conc, 924)]:
    ann.append(dict(x=fx(xp), y=fy(233), xref="paper", yref="paper", text=txt, textangle=-90,
                    showarrow=False, xanchor="center", yanchor="middle",
                    font=dict(family=FONT, size=16, color="#222")))
for txt, xp in [("m/z (Th)", 238), ("hours", 1037)]:
    ann.append(dict(x=fx(xp), y=fy(479), xref="paper", yref="paper", text=txt,
                    showarrow=False, xanchor="center", yanchor="middle",
                    font=dict(family=FONT, size=13, color="#222")))
layout["annotations"] = ann

fig.update_layout(**layout)
fig.write_html("out.html", config={"displayModeBar": False, "staticPlot": True})
